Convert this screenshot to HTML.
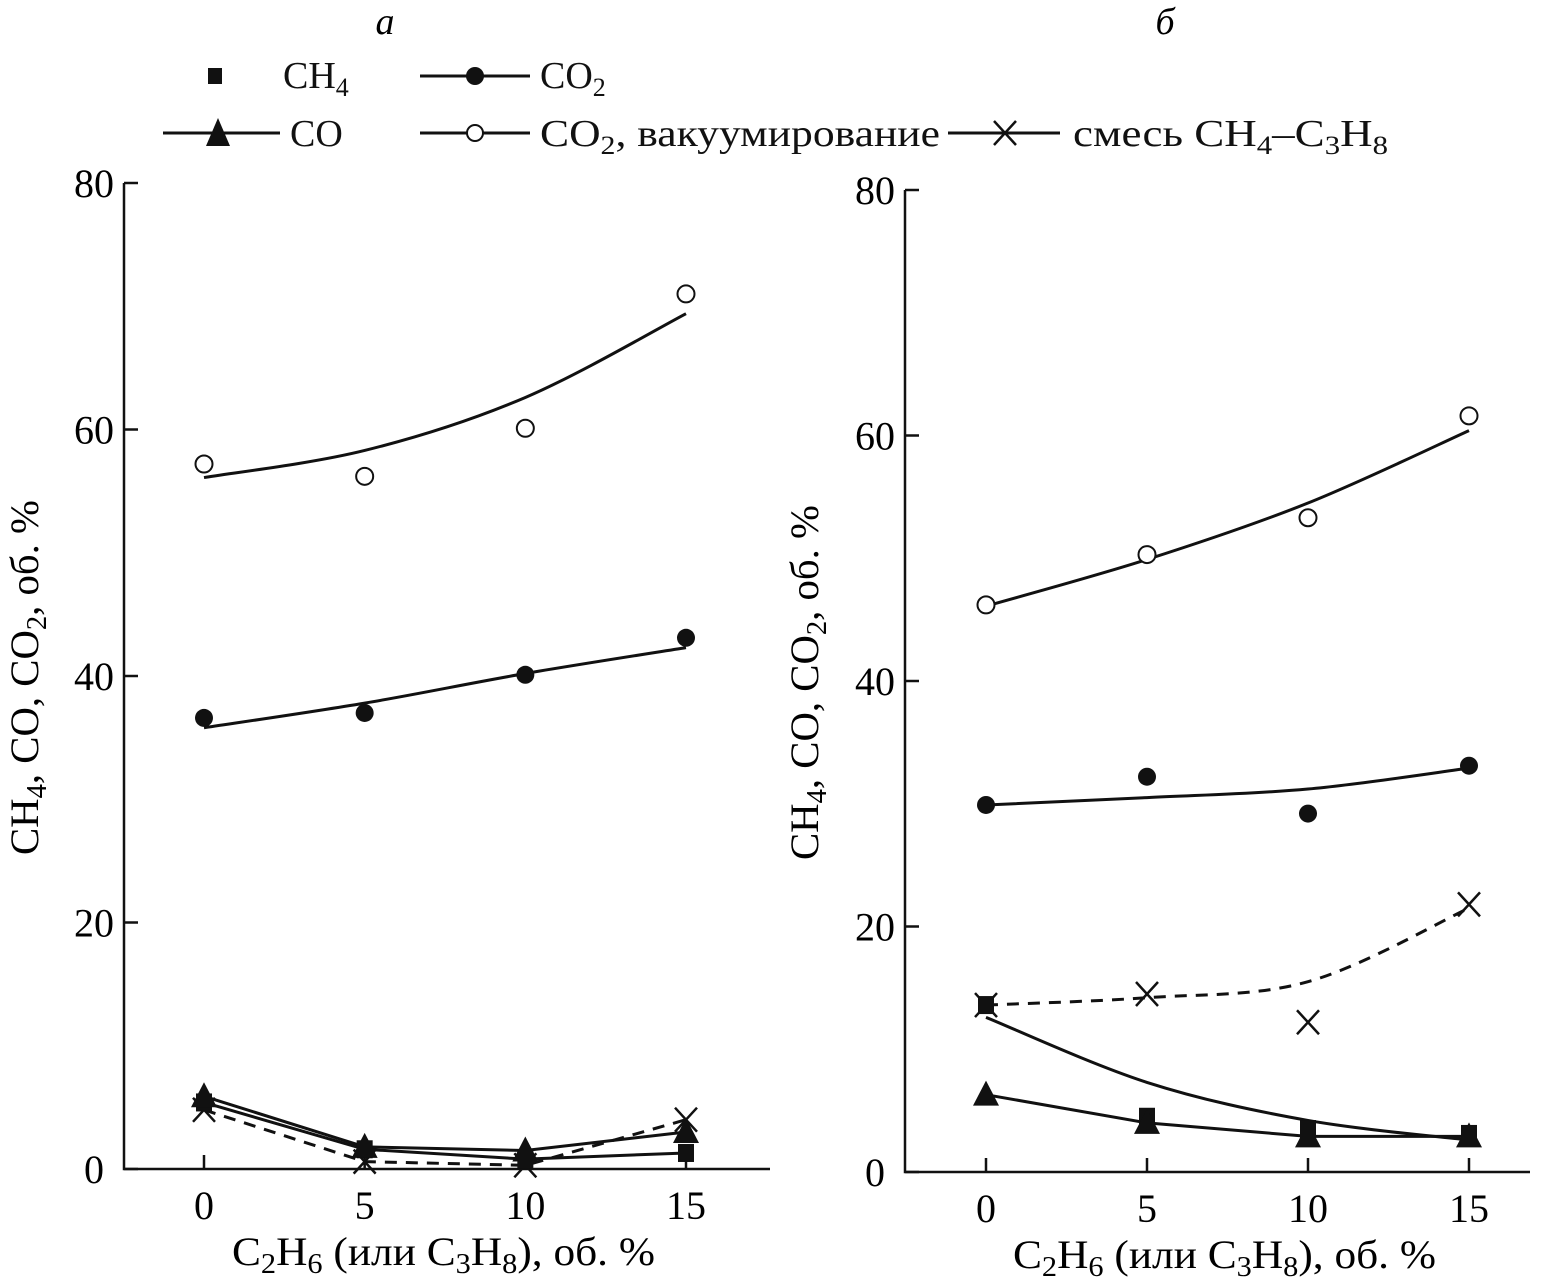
<!DOCTYPE html>
<html><head><meta charset="utf-8"><style>
html,body{margin:0;padding:0;background:#fff}
svg{display:block;font-family:"Liberation Serif",serif}
</style></head><body>
<svg id="chart" width="1552" height="1286" viewBox="0 0 1552 1286" xmlns="http://www.w3.org/2000/svg">
<g font-size="38" fill="#111">
 <rect x="208" y="68" width="14" height="16" fill="#111"/>
 <text x="283" y="88">CH<tspan font-size="26" dy="8">4</tspan></text>
 <line x1="420" y1="76" x2="530" y2="76" stroke="#111" stroke-width="3"/>
 <circle cx="475" cy="76" r="9" fill="#111"/>
 <text x="540" y="88">CO<tspan font-size="26" dy="8">2</tspan></text>
 <line x1="163" y1="133" x2="280" y2="133" stroke="#111" stroke-width="3"/>
 <polygon points="218,118 206,146 230,146" fill="#111"/>
 <text x="290" y="146">CO</text>
 <line x1="420" y1="133" x2="530" y2="133" stroke="#111" stroke-width="3"/>
 <circle cx="475" cy="133" r="8" fill="#fff" stroke="#111" stroke-width="2"/>
 <text x="540" y="146" textLength="400" lengthAdjust="spacingAndGlyphs">CO<tspan font-size="26" dy="8">2</tspan><tspan dy="-8">, вакуумирование</tspan></text>
 <line x1="948" y1="133" x2="1060" y2="133" stroke="#111" stroke-width="3"/>
 <path d="M994,121 L1016,145 M1016,121 L994,145" stroke="#111" stroke-width="2.5"/>
 <text x="1073" y="146" textLength="315" lengthAdjust="spacingAndGlyphs">смесь CH<tspan font-size="26" dy="8">4</tspan><tspan dy="-8">–C</tspan><tspan font-size="26" dy="8">3</tspan><tspan dy="-8">H</tspan><tspan font-size="26" dy="8">8</tspan></text>
</g>
<text x="385" y="34" font-size="38" font-style="italic" text-anchor="middle">а</text>
<text x="1165" y="34" font-size="38" font-style="italic" text-anchor="middle">б</text>
</svg>
<script>
// ---- data ----
const xCats = [0, 5, 10, 15];
const yTicks = [0, 20, 40, 60, 80];
// panel a
const aCO2vac = [57.2, 56.2, 60.1, 71.0];
const aCO2vacFit = [56.1, 58.3, 62.6, 69.4];
const aCO2 = [36.6, 37.0, 40.1, 43.1];
const aCO2Fit = [35.8, 37.8, 40.2, 42.3];
const aCO = [5.9, 1.8, 1.5, 3.0];
const aCH4 = [5.4, 1.6, 0.8, 1.3];
const aMix = [4.8, 0.6, 0.3, 4.0];
// panel b
const bCO2vac = [46.2, 50.3, 53.3, 61.6];
const bCO2vacFit = [46.1, 49.9, 54.5, 60.4];
const bCO2 = [29.9, 32.2, 29.2, 33.1];
const bCO2Fit = [29.9, 30.5, 31.2, 32.9];
const bMix = [13.6, 14.5, 12.2, 21.8];
const bMixFit = [13.6, 14.2, 15.5, 21.5];
const bCH4 = [13.6, 4.5, 3.5, 3.1];
const bCH4Fit = [12.6, 7.3, 4.2, 2.6];
const bCO = [6.3, 4.0, 2.9, 2.9];

const NS = 'http://www.w3.org/2000/svg';
const svg = document.getElementById('chart');
function mk(tag, attrs, parent) {
  const e = document.createElementNS(NS, tag);
  for (const k in attrs) e.setAttribute(k, attrs[k]);
  (parent || svg).appendChild(e);
  return e;
}
function smooth(pts) {
  let d = 'M' + pts[0][0] + ',' + pts[0][1];
  for (let i = 0; i < pts.length - 1; i++) {
    const p0 = pts[Math.max(0, i - 1)], p1 = pts[i], p2 = pts[i + 1], p3 = pts[Math.min(pts.length - 1, i + 2)];
    const c1x = p1[0] + (p2[0] - p0[0]) / 6, c1y = p1[1] + (p2[1] - p0[1]) / 6;
    const c2x = p2[0] - (p3[0] - p1[0]) / 6, c2y = p2[1] - (p3[1] - p1[1]) / 6;
    d += ' C' + c1x + ',' + c1y + ' ' + c2x + ',' + c2y + ' ' + p2[0] + ',' + p2[1];
  }
  return d;
}
function panel(cfg) {
  const g = mk('g', {});
  
  
  const X = v => cfg.x0 + (v - 0) * (cfg.x15 - cfg.x0) / 15;
  const Y = v => cfg.y0 - v * (cfg.y0 - cfg.y80) / 80;
  const ax = mk('path', {d: 'M' + cfg.ax + ',' + cfg.y80 + ' V' + cfg.y0 + ' H' + cfg.axEnd, fill: 'none', stroke: '#111', 'stroke-width': 2.5}, g);
  
  
  yTicks.forEach(t => {
    const l = mk('line', {x1: cfg.ax, x2: cfg.ax + 14, y1: Y(t), y2: Y(t), stroke: '#111', 'stroke-width': 2.5}, g);
    
    
    const tx = mk('text', {x: cfg.ax - 30, y: Y(t) + 14, 'font-size': 40, 'text-anchor': 'middle'}, g);
    tx.textContent = t;
    
    
  });
  xCats.forEach(c => {
    const l = mk('line', {x1: X(c), x2: X(c), y1: cfg.y0, y2: cfg.y0 - 14, stroke: '#111', 'stroke-width': 2.5}, g);
    
    
    const tx = mk('text', {x: X(c), y: cfg.y0 + 50, 'font-size': 40, 'text-anchor': 'middle'}, g);
    tx.textContent = c;
    
    
  });
  const xt = mk('text', {x: cfg.xtx, y: cfg.y0 + 96, 'font-size': 40, textLength: 423, lengthAdjust: 'spacingAndGlyphs'}, g);
  xt.innerHTML = 'C<tspan font-size="28" dy="8">2</tspan><tspan dy="-8">H</tspan><tspan font-size="28" dy="8">6</tspan><tspan dy="-8"> (или C</tspan><tspan font-size="28" dy="8">3</tspan><tspan dy="-8">H</tspan><tspan font-size="28" dy="8">8</tspan><tspan dy="-8">), об. %</tspan>';
  
  
  const yt = mk('text', {x: 0, y: 0, 'font-size': 40, textLength: 355, lengthAdjust: 'spacingAndGlyphs', transform: 'translate(' + cfg.ytx + ',' + cfg.yty + ') rotate(-90)'}, g);
  yt.innerHTML = 'CH<tspan font-size="28" dy="8">4</tspan><tspan dy="-8">, CO, CO</tspan><tspan font-size="28" dy="8">2</tspan><tspan dy="-8">, об. %</tspan>';
  
  

  (cfg.lines || []).forEach(s => {
    const pts = s.vals.map((v, i) => [X(xCats[i]), Y(v)]);
    const p = mk('path', {d: s.straight ? 'M' + pts.map(p => p.join(',')).join(' L') : smooth(pts), fill: 'none', stroke: '#111', 'stroke-width': 3, 'stroke-dasharray': s.dash ? '12,9' : 'none'}, g);
    
    
  });
  (cfg.marks || []).forEach(s => {
    s.vals.forEach((v, i) => {
      const x = X(xCats[i]), y = Y(v);
      let e;
      if (s.type === 'circle') e = mk('circle', {cx: x, cy: y, r: 9, fill: '#111'}, g);
      else if (s.type === 'ocircle') e = mk('circle', {cx: x, cy: y, r: 8.5, fill: '#fff', stroke: '#111', 'stroke-width': 2}, g);
      else if (s.type === 'square') e = mk('rect', {x: x - 8, y: y - 9, width: 16, height: 18, fill: '#111'}, g);
      else if (s.type === 'tri') e = mk('polygon', {points: x + ',' + (y - 14) + ' ' + (x - 13) + ',' + (y + 11) + ' ' + (x + 13) + ',' + (y + 11), fill: '#111'}, g);
      else e = mk('path', {d: 'M' + (x - 11) + ',' + (y - 12) + ' L' + (x + 11) + ',' + (y + 12) + ' M' + (x + 11) + ',' + (y - 12) + ' L' + (x - 11) + ',' + (y + 12), stroke: '#111', 'stroke-width': 2.5}, g);
      
      
    });
  });
}
panel({name: 'panel-a', ax: 124, axEnd: 770, x0: 204, x15: 686, y0: 1169, y80: 183, ytx: 38, yty: 855, xtx: 232,
  lines: [
    {name: 'co2vac-fit', vals: aCO2vacFit},
    {name: 'co2-fit', vals: aCO2Fit},
    {name: 'co-line', vals: aCO, straight: true},
    {name: 'ch4-line', vals: aCH4, straight: true},
    {name: 'mix-line', vals: aMix, straight: true, dash: true}
  ],
  marks: [
    {name: 'co2vac-point', vals: aCO2vac, type: 'ocircle'},
    {name: 'co2-point', vals: aCO2, type: 'circle'},
    {name: 'mix-point', vals: aMix, type: 'x'},
    {name: 'ch4-point', vals: aCH4, type: 'square'},
    {name: 'co-point', vals: aCO, type: 'tri'}
  ]});
panel({name: 'panel-b', ax: 905, axEnd: 1530, x0: 986, x15: 1469, y0: 1172, y80: 190, ytx: 818, yty: 860, xtx: 1013,
  lines: [
    {name: 'co2vac-fit', vals: bCO2vacFit},
    {name: 'co2-fit', vals: bCO2Fit},
    {name: 'mix-fit', vals: bMixFit, dash: true},
    {name: 'ch4-fit', vals: bCH4Fit},
    {name: 'co-line', vals: bCO, straight: true}
  ],
  marks: [
    {name: 'co2vac-point', vals: bCO2vac, type: 'ocircle'},
    {name: 'co2-point', vals: bCO2, type: 'circle'},
    {name: 'mix-point', vals: bMix, type: 'x'},
    {name: 'ch4-point', vals: bCH4, type: 'square'},
    {name: 'co-point', vals: bCO, type: 'tri'}
  ]});
</script>
</body></html>
